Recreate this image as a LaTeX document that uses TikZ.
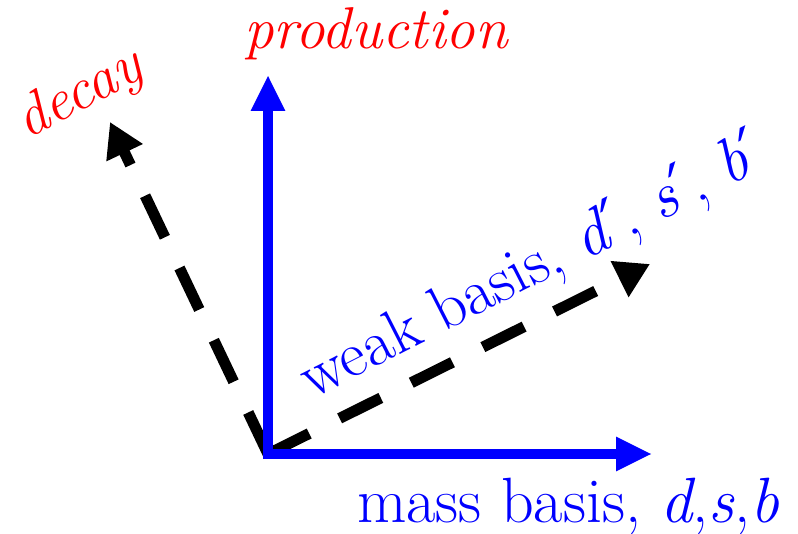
\documentclass[tikz,border=0pt]{standalone}
\usepackage{fontspec}
\newfontfamily\dvprime{DejaVu Serif}
\usetikzlibrary{arrows.meta}
\newcommand{\prm}{{\dvprime\itshape ′}}

\begin{document}
\begin{tikzpicture}[x=1pt, y=-1pt,
  basis/.style={line width=10pt, blue, line cap=rect, -{Triangle[width=32pt,length=36pt]}},
  rotbasis/.style={line width=11pt, black, dash pattern=on 46pt off 34pt, -{Triangle[width=38pt,length=34pt]}},
  lbl/.style={font=\fontsize{59}{60}\selectfont, inner sep=0pt},
  biglbl/.style={font=\fontsize{64}{66}\selectfont, inner sep=0pt}]
  \useasboundingbox (0,0) rectangle (798,534);
  % axes
  \coordinate (O) at (268,454);
  \coordinate (prod) at (268,75);
  \coordinate (mass) at (652,454);
  \coordinate (decay) at (110,122);
  \coordinate (weak) at (650,264);
  \draw[rotbasis] (O) -- (decay);
  \draw[rotbasis] (O) -- (weak);
  \draw[basis] (O) -- (prod);
  \draw[basis] (O) -- (mass);
  % labels
  \node[lbl, red, anchor=base] (prodlbl) at (376,49) {\itshape production};
  \node[lbl, red, rotate=28] (decaylbl) at (80,95) {\itshape decay};
  \node[biglbl, blue, rotate=27] (weaklbl) at (532,268) {weak basis, \textit{d}\prm, \textit{s}\prm, \textit{b}\prm};
  \node[biglbl, blue, anchor=base] (masslbl) at (568,522) {mass basis, \textit{d},\textit{s},\textit{b}};
\end{tikzpicture}
\end{document}
